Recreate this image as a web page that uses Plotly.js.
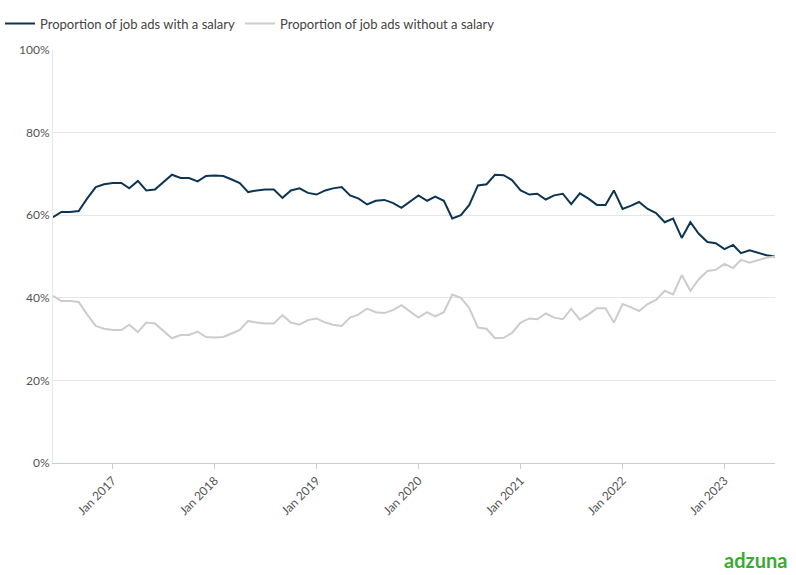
<!DOCTYPE html><html><head><script src="https://cdn.plot.ly/plotly-3.0.1.min.js"></script>
<style>body{margin:0}</style></head><body><div id="c" style="width:796px;height:575px"></div>
<script>
const startYear=2016,startMonth=6;
const withSalary=[59.5,60.8,60.8,61,64,66.8,67.5,67.8,67.8,66.5,68.3,66,66.2,68,69.8,69,69,68.2,69.5,69.6,69.5,68.7,67.8,65.6,66,66.2,66.2,64.2,66,66.5,65.4,65,66,66.5,66.8,64.8,64,62.6,63.5,63.7,63,61.8,63.2,64.8,63.5,64.5,63.5,59.2,60,62.5,67.2,67.5,69.8,69.7,68.5,66,65,65.2,63.8,64.8,65.2,62.7,65.3,64,62.5,62.5,66,61.5,62.3,63.2,61.5,60.5,58.3,59.2,54.5,58.3,55.5,53.5,53.2,51.8,52.8,50.8,51.5,51,50.3,50];
const withoutSalary=[40.5,39.2,39.2,39,36,33.2,32.5,32.2,32.2,33.5,31.7,34,33.8,32,30.2,31,31,31.8,30.5,30.4,30.5,31.3,32.2,34.4,34,33.8,33.8,35.8,34,33.5,34.6,35,34,33.5,33.2,35.2,36,37.4,36.5,36.3,37,38.2,36.8,35.2,36.5,35.5,36.5,40.8,40,37.5,32.8,32.5,30.2,30.3,31.5,34,35,34.8,36.2,35.2,34.8,37.3,34.7,36,37.5,37.5,34,38.5,37.7,36.8,38.5,39.5,41.7,40.8,45.5,41.7,44.5,46.5,46.8,48.2,47.2,49.2,48.5,49,49.7,50];
const dates=withSalary.map((_,i)=>{const m=startMonth-1+i;const y=startYear+Math.floor(m/12);const mm=(m%12)+1;return y+'-'+String(mm).padStart(2,'0')+'-01';});
const tickVals=['2017-01-01','2018-01-01','2019-01-01','2020-01-01','2021-01-01','2022-01-01','2023-01-01'];
const tickText=['Jan 2017','Jan 2018','Jan 2019','Jan 2020','Jan 2021','Jan 2022','Jan 2023'];
const f={family:'Lato, "Open Sans", sans-serif',size:12,color:'#555'};
Plotly.newPlot('c',[
{x:dates,y:withSalary,type:'scatter',mode:'lines',name:'Proportion of job ads with a salary',line:{color:'#0d3553',width:2}},
{x:dates,y:withoutSalary,type:'scatter',mode:'lines',name:'Proportion of job ads without a salary',line:{color:'#cccccc',width:2}}
],{
width:796,height:575,margin:{l:53,r:21,t:50,b:112},font:f,
showlegend:true,legend:{orientation:'h',x:0,xref:'container',y:0.985,yref:'container',yanchor:'top',xanchor:'left',font:{size:13,color:'#444'},itemwidth:12,tracegroupgap:0},
xaxis:{range:[dates[0],dates[dates.length-1]],tickvals:tickVals,ticktext:tickText,tickangle:-45,showgrid:false,showline:true,linecolor:'#ccc',ticks:'outside',ticklen:5,tickcolor:'#ccc'},
yaxis:{range:[0,100],dtick:20,ticksuffix:'%',gridcolor:'#e6e6e6',showline:true,linecolor:'#e6e6e6',zeroline:false},
annotations:[{text:'<b>adzuna</b>',xref:'paper',yref:'paper',x:1.02,y:-0.2,xanchor:'right',yanchor:'top',showarrow:false,font:{size:20,color:'#3aaa35',family:'Lato, sans-serif'}}]
},{displayModeBar:false});
</script></body></html>
